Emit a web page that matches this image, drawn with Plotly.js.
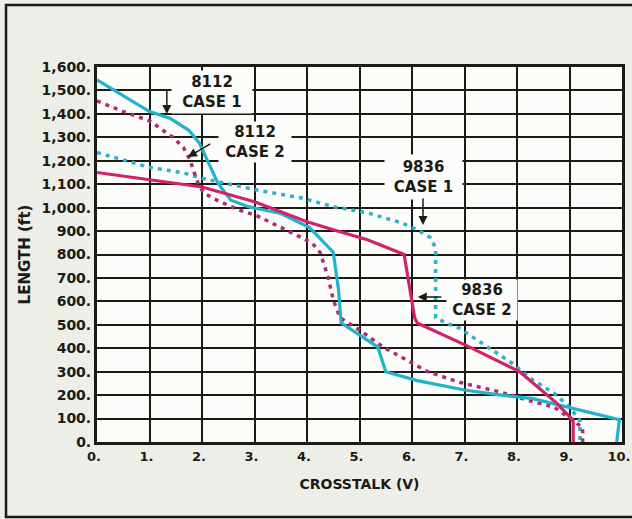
<!DOCTYPE html>
<html>
<head>
<meta charset="utf-8">
<script src="https://cdn.plot.ly/plotly-3.0.1.min.js"></script>
<style>
html,body{margin:0;padding:0;background:#eeeee8;}
#chart{width:632px;height:519px;}
</style>
</head>
<body>
<div id="chart"></div>
<script>
// ---- data ----
const xTickVals = [0,1,2,3,4,5,6,7,8,9,10];
const xTickText = ["0.","1.","2.","3.","4.","5.","6.","7.","8.","9.","10."];
const yTickVals = [0,100,200,300,400,500,600,700,800,900,1000,1100,1200,1300,1400,1500,1600];
const yTickText = ["0.","100.","200.","300.","400.","500.","600.","700.","800.","900.","1,000.","1,100.","1,200.","1,300.","1,400.","1,500.","1,600."];

// 8112 CASE 1 (cyan solid)
const c8112Case1X = [0, 0.5, 1.0, 1.4, 1.75, 1.95, 2.1, 2.3, 2.55, 2.9, 3.5, 4.05, 4.5, 4.6, 4.65, 5.35, 5.5, 6.1, 7.0, 7.7, 8.3, 9.1, 9.95, 9.9];
const c8112Case1Y = [1545, 1478, 1410, 1380, 1330, 1275, 1205, 1105, 1032, 1003, 975, 915, 810, 650, 508, 405, 300, 262, 222, 200, 185, 140, 95, 0];

// 8112 CASE 2 (magenta dotted)
const c8112Case2X = [0, 0.5, 1.0, 1.45, 1.65, 1.77, 1.85, 1.95, 2.05, 2.3, 2.7, 3.05, 3.9, 4.1, 4.25, 4.4, 4.5, 4.63, 5.0, 5.45, 5.8, 6.3, 6.9, 7.7, 8.3, 8.7, 9.25, 9.25];
const c8112Case2Y = [1455, 1410, 1370, 1300, 1255, 1205, 1150, 1090, 1060, 1030, 990, 965, 872, 848, 808, 705, 607, 530, 478, 405, 362, 300, 255, 212, 172, 150, 62, 0];

// 9836 CASE 1 (cyan dotted)
const c9836Case1X = [0, 0.75, 1.0, 1.65, 2.0, 3.05, 3.9, 4.5, 5.15, 5.8, 6.1, 6.35, 6.45, 6.45, 6.65, 6.9, 7.45, 7.9, 8.3, 8.7, 9.0, 9.2, 9.2];
const c9836Case1Y = [1235, 1190, 1172, 1148, 1125, 1075, 1041, 1004, 978, 935, 906, 872, 828, 530, 508, 486, 406, 337, 265, 209, 150, 90, 0];

// 9836 CASE 2 (magenta solid)
const c9836Case2X = [0, 1.0, 2.0, 3.0, 4.0, 4.5, 5.15, 5.85, 6.05, 6.1, 7.05, 8.05, 8.75, 9.07, 9.07];
const c9836Case2Y = [1150, 1118, 1088, 1025, 940, 906, 863, 800, 530, 508, 410, 300, 167, 92, 0];

// ---- styling ----
const cyan = "#22b3cc";
const cyanDot = "#2fb0cc";
const magenta = "#d4226a";
const magentaDot = "#b02c70";
const ink = "#1b1b14";
const fontFam = "DejaVu Sans, Arial, sans-serif";

const traces = [
  {x:c9836Case1X, y:c9836Case1Y, name:"9836 CASE 1", mode:"lines", line:{color:cyanDot, width:3.5, dash:"4px,5px"}},
  {x:c8112Case2X, y:c8112Case2Y, name:"8112 CASE 2", mode:"lines", line:{color:magentaDot, width:3.5, dash:"4px,5px"}},
  {x:c8112Case1X, y:c8112Case1Y, name:"8112 CASE 1", mode:"lines", line:{color:cyan, width:3.2}},
  {x:c9836Case2X, y:c9836Case2Y, name:"9836 CASE 2", mode:"lines", line:{color:magenta, width:3.2}}
];

const labelFont = {family:fontFam, size:15, color:ink};
function box(text, x, y, w, h){
  return {text:text, x:x, y:y, xref:"x", yref:"y", showarrow:false, bgcolor:"#fcfcfa",
          width:w, height:h, font:labelFont, align:"center", borderpad:0};
}
function arrow(x, y, ax, ay){
  return {text:"", x:x, y:y, xref:"x", yref:"y", showarrow:true, ax:ax, ay:ay,
          arrowhead:2, arrowsize:1.2, arrowwidth:1.5, arrowcolor:ink, standoff:0, startstandoff:0};
}

const layout = {
  width:632, height:519,
  paper_bgcolor:"#eeeee8",
  plot_bgcolor:"#fcfcfa",
  margin:{l:97, r:10, t:67, b:77},
  showlegend:false,
  font:{family:fontFam, color:ink},
  xaxis:{
    range:[0,10], tickvals:xTickVals, ticktext:xTickText,
    showgrid:true, gridcolor:ink, gridwidth:2,
    showline:true, linecolor:ink, linewidth:3, mirror:true,
    zeroline:false, ticks:"", ticklabelstandoff:0, ticklabeloverflow:"allow", ticklabelshift:-3,
    tickfont:{family:fontFam, size:13, color:ink, weight:"bold"},
    title:{text:"CROSSTALK (V)", font:{family:fontFam, size:14, color:ink, weight:"bold"}, standoff:17}
  },
  yaxis:{
    range:[0,1600], tickvals:yTickVals, ticktext:yTickText,
    showgrid:true, gridcolor:ink, gridwidth:2,
    showline:true, linecolor:ink, linewidth:3, mirror:true,
    zeroline:false, ticks:"", ticklabelstandoff:0,
    tickfont:{family:fontFam, size:14, color:ink, weight:"bold"},
    title:{text:"LENGTH (ft)", font:{family:fontFam, size:15, color:ink, weight:"bold"}, standoff:8}
  },
  annotations:[
    box("<b>8112</b><br><b>CASE 1</b>", 2.19, 1493, 80, 42),
    box("<b>8112</b><br><b>CASE 2</b>", 3.01, 1282, 72, 40),
    box("<b>9836</b><br><b>CASE 1</b>", 6.21, 1130, 77, 44),
    box("<b>9836</b><br><b>CASE 2</b>", 7.33, 606, 70, 40),
    arrow(1.33, 1399, 0, -26),
    arrow(1.73, 1216, 24, -14),
    arrow(6.21, 926, 0, -28),
    arrow(6.11, 619, 25, 0)
  ],
  shapes:[
    {type:"rect", xref:"paper", yref:"paper", x0:-0.1733, x1:1.06, y0:-0.2, y1:1.1653,
     line:{color:ink, width:2.5}, fillcolor:"rgba(0,0,0,0)", layer:"below"}
  ]
};

Plotly.newPlot("chart", traces, layout, {displayModeBar:false, staticPlot:true});
</script>
</body>
</html>
